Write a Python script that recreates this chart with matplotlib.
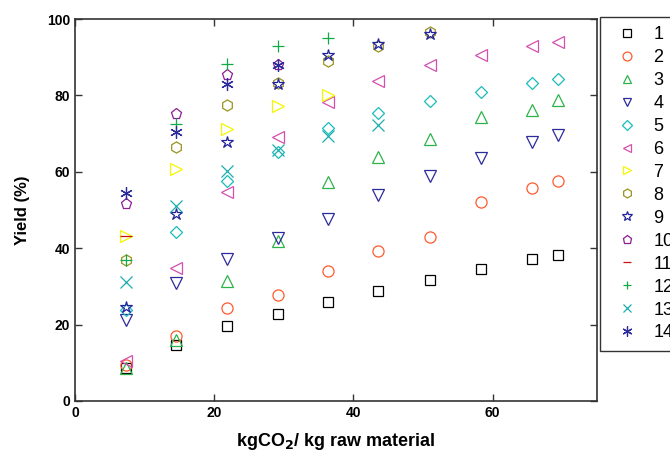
import matplotlib
matplotlib.use("Agg")
import matplotlib.pyplot as plt

plt.rcParams['font.family'] = ['Liberation Sans', 'DejaVu Sans']

# kg CO2 per kg raw material (shared x positions)
x_all = [7.3, 14.5, 21.8, 29.1, 36.4, 43.6, 51.0, 58.3, 65.6, 69.4]

# yield (%) for each series, in order of x_all
y1 = [8.6, 14.7, 19.7, 22.9, 25.9, 28.9, 31.7, 34.5, 37.1, 38.1]
y2 = [9.5, 17.0, 24.3, 27.8, 34.1, 39.3, 43.0, 52.0, 55.8, 57.6]
y3 = [8.7, 16.0, 31.4, 42.0, 57.4, 64.0, 68.5, 74.4, 76.3, 78.8]
y4 = [21.2, 30.8, 37.2, 42.6, 47.6, 53.9, 58.9, 63.6, 67.9, 69.6]
y5 = [23.8, 44.2, 57.6, 65.3, 71.4, 75.5, 78.5, 81.0, 83.3, 84.4]
y6 = [10.5, 34.7, 54.7, 69.0, 78.4, 83.9, 88.0, 90.7, 93.0, 94.0]
y7 = [43.2, 60.7, 71.3, 77.2, 80.1]
y8 = [37.0, 66.6, 77.6, 83.3, 89.1, 93.0, 96.5]
y9 = [24.5, 49.0, 67.7, 83.0, 90.7, 93.4, 96.2]
y10 = [51.6, 75.1, 85.3, 88.0]
y11 = [43.2]
y12 = [37.0, 72.5, 88.1, 93.0, 94.9]
y13 = [31.2, 51.1, 60.2, 65.8, 69.4, 72.3]
y14 = [54.5, 70.3, 82.9, 88.0]

series = [y1, y2, y3, y4, y5, y6, y7, y8, y9, y10, y11, y12, y13, y14]
labels = [str(i) for i in range(1, 15)]
markers = ['s', 'o', '^', 'v', 'D', '<', '>', 'h', '*', 'p', '_', '+', 'x', (6, 2, 0)]
colors = ['#000000', '#ff5a2e', '#2cb34a', '#2b2b9c', '#1bbcbc', '#d44fae',
          '#f5f500', '#9a9420', '#23239e', '#8e1d96', '#cc1111', '#12aa45',
          '#1aaeae', '#2b2b9c']
sizes = [7, 8, 8, 8, 6, 8, 8, 8, 9, 8, 8, 8, 8, 9]

fig = plt.figure(figsize=(6.7, 4.59), dpi=100)
ax = fig.add_axes([0.112, 0.1264, 0.779, 0.8322])

handles = []
for ys, lab, m, c, s in zip(series, labels, markers, colors, sizes):
    h, = ax.plot(x_all[:len(ys)], ys, linestyle='none', marker=m, markersize=s,
                 markerfacecolor='none', markeredgecolor=c, markeredgewidth=0.9,
                 color=c, label=lab)
    handles.append(h)

ax.set_xlim(0, 75)
ax.set_ylim(0, 100)
ax.set_xticks([0, 20, 40, 60])
ax.set_yticks([0, 20, 40, 60, 80, 100])
ax.tick_params(direction='in', top=True, right=True, length=5, width=1,
               labelsize=10, colors='#333333', labelcolor='black')
for lbl in ax.get_xticklabels() + ax.get_yticklabels():
    lbl.set_fontweight('bold')
for sp in ax.spines.values():
    sp.set_linewidth(1.2)
    sp.set_color('#333333')

ax.set_xlabel('kgCO$_\\mathbf{2}$/ kg raw material', fontsize=13, fontweight='bold', labelpad=8)
ax.set_ylabel('Yield (%)', fontsize=12, fontweight='bold', labelpad=12)

leg = fig.legend(handles=handles, loc='upper left', bbox_to_anchor=(600 / 670, 1 - 17 / 459),
                 fontsize=13, frameon=True, fancybox=False, edgecolor='black',
                 handlelength=2.0, handletextpad=0.45, labelspacing=0.33,
                 borderpad=0.5, borderaxespad=0, markerscale=0.8)
leg.get_frame().set_linewidth(1.0)

fig.savefig('out.png', dpi=100)
